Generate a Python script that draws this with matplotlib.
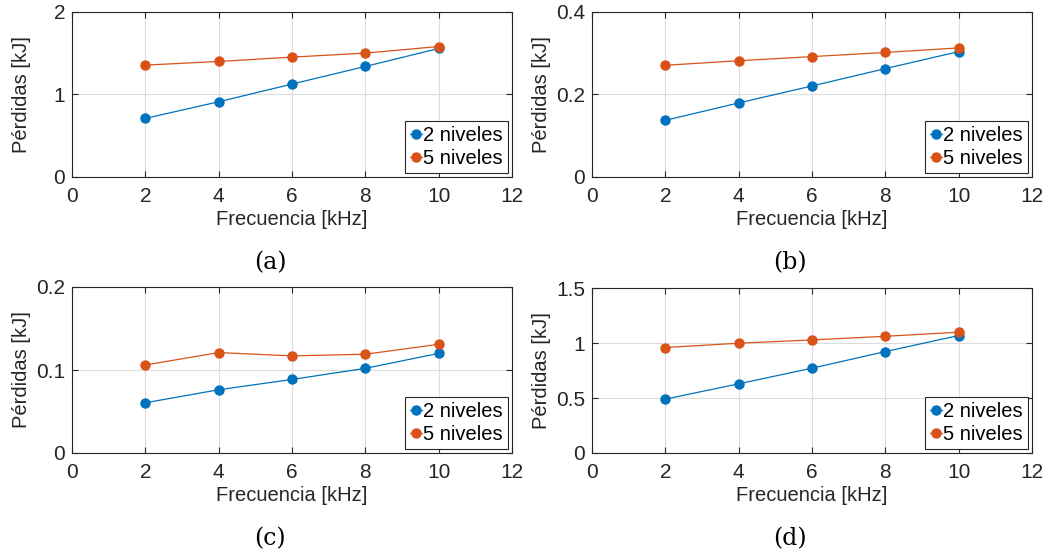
import matplotlib
matplotlib.use("Agg")
import matplotlib.pyplot as plt

plt.rcParams['font.family'] = ['Liberation Sans', 'DejaVu Sans']

freq = [2, 4, 6, 8, 10]

a_2niv = [0.708, 0.909, 1.123, 1.336, 1.553]
a_5niv = [1.352, 1.396, 1.449, 1.497, 1.577]

b_2niv = [0.137, 0.179, 0.220, 0.262, 0.303]
b_5niv = [0.270, 0.281, 0.291, 0.301, 0.312]

c_2niv = [0.0605, 0.0762, 0.0886, 0.102, 0.120]
c_5niv = [0.106, 0.121, 0.117, 0.119, 0.131]

d_2niv = [0.490, 0.629, 0.771, 0.922, 1.068]
d_5niv = [0.959, 0.998, 1.028, 1.061, 1.098]

panels = [
    ("(a)", a_2niv, a_5niv, [0, 1, 2], ["0", "1", "2"]),
    ("(b)", b_2niv, b_5niv, [0, 0.2, 0.4], ["0", "0.2", "0.4"]),
    ("(c)", c_2niv, c_5niv, [0, 0.1, 0.2], ["0", "0.1", "0.2"]),
    ("(d)", d_2niv, d_5niv, [0, 0.5, 1, 1.5], ["0", "0.5", "1", "1.5"]),
]

W, H = 1048, 556
# axes boxes in pixels: left, top, right, bottom
boxes = [(72, 11.5, 512, 177), (592, 11.5, 1032, 177),
         (72, 287, 512, 453), (592, 288, 1032, 453)]

blue = "#0072BD"
orange = "#D95319"
dark = "#262626"

fig = plt.figure(figsize=(W / 100, H / 100), dpi=100)

for (cap, s2, s5, yt, ytl), (l, t, r, b) in zip(panels, boxes):
    ax = fig.add_axes([l / W, 1 - b / H, (r - l) / W, (b - t) / H])
    ax.plot(freq, s2, "-o", color=blue, lw=0.9, ms=6.5, label="2 niveles", zorder=3)
    ax.plot(freq, s5, "-o", color=orange, lw=0.9, ms=6.5, label="5 niveles", zorder=3)
    ax.set_xlim(0, 12)
    ax.set_ylim(yt[0], yt[-1])
    ax.set_xticks([0, 2, 4, 6, 8, 10, 12])
    ax.set_yticks(yt)
    ax.set_yticklabels(ytl)
    ax.grid(True, color="#dddddd", lw=0.8)
    ax.set_axisbelow(True)
    ax.tick_params(axis="both", direction="in", length=4, width=0.8, colors=dark,
                   labelsize=15, top=True, right=True)
    ax.tick_params(axis="x", pad=7)
    ax.tick_params(axis="y", pad=5)
    for sp in ax.spines.values():
        sp.set_color(dark)
        sp.set_linewidth(0.8)
    ax.set_xlabel("Frecuencia [kHz]", fontsize=14.5, color=dark, labelpad=3)
    ax.set_ylabel("Pérdidas [kJ]", fontsize=14.5, color=dark)
    ax.yaxis.set_label_coords(-0.093, 0.5)
    leg = ax.legend(loc="lower right", fontsize=14.5, handlelength=0.6,
                    handletextpad=0.05, borderpad=0.25, labelspacing=0.2,
                    borderaxespad=0.2, fancybox=False, framealpha=1)
    leg.get_frame().set_edgecolor(dark)
    leg.get_frame().set_linewidth(0.8)
    cx = (l + r) / 2 - 22
    cy = b + 86
    fig.text(cx / W, 1 - cy / H, cap, ha="center", va="center",
             fontsize=17, family="DejaVu Serif")

fig.savefig("out.png", dpi=100)
